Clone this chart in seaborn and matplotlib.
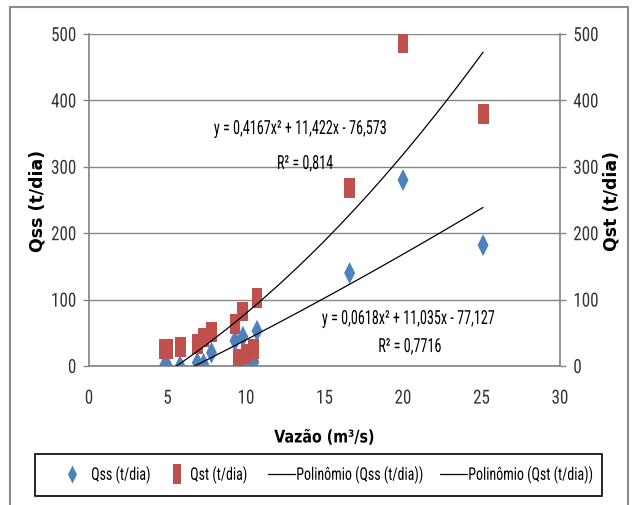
import numpy as np
import pandas as pd
import matplotlib
matplotlib.use("Agg")
import matplotlib.pyplot as plt
from matplotlib import font_manager as fm
from matplotlib.lines import Line2D
from matplotlib.patches import Rectangle
from matplotlib.patheffects import AbstractPathEffect
from matplotlib.textpath import TextPath
from matplotlib.transforms import Affine2D
import seaborn as sns

# Flow rate (m³/s) and sediment discharges (t/dia)
vazao = [4.8, 5.0, 5.8, 6.9, 7.3, 7.8, 9.3, 9.8, 9.5, 10.0, 10.5, 10.7, 16.6, 20.0, 25.1]
qss = [0, 0, 0, 5, 3, 20, 38, 44, 2, 0, 6, 53, 140, 280, 182]
qst = [25, 26, 28, 33, 43, 51, 63, 82, 10, 18, 25, 103, 268, 487, 380]

# Second-order polynomial trend coefficients (a, b, c) and R²
coef_qss = [0.0618, 11.035, -77.127]
r2_qss = 0.7716
coef_qst = [0.4167, 11.422, -76.573]
r2_qst = 0.814

x_ticks = [0, 5, 10, 15, 20, 25, 30]
y_ticks = [0, 100, 200, 300, 400, 500]
legend_labels = ["Qss (t/dia)", "Qst (t/dia)",
                 "Polinômio (Qss (t/dia))", "Polinômio (Qst (t/dia))"]

sns.set_theme(style="white")
plt.rcParams["font.family"] = ["Liberation Sans", "DejaVu Sans"]

BLUE = "#4F81BD"
RED = "#C0504D"
GRID = "#868686"
TXT = "#333333"
TICK_FS = 14
TEXT_FS = 14
LEG_FS = 12.5
W, H, DPI = 634, 506, 100


def narrow_font():
    """Prefer an installed narrow/condensed sans face for the chart text."""
    prefs = ["Liberation Sans Narrow", "Arial Narrow", "Roboto Condensed",
             "Open Sans Condensed", "Noto Sans", "DejaVu Sans"]
    best = None
    for f in fm.fontManager.ttflist:
        narrow = ("Narrow" in f.name or "Condensed" in f.name
                  or "condensed" in str(f.stretch))
        if not narrow or f.style != "normal" or f.weight not in (400, "normal", "regular"):
            continue
        rank = next((i for i, p in enumerate(prefs) if f.name.startswith(p)), len(prefs))
        if best is None or rank < best[0]:
            best = (rank, f.fname)
    if best is None:
        return fm.FontProperties(family="Liberation Sans")
    return fm.FontProperties(fname=best[1])


BASE = narrow_font()


def font(size):
    fp = BASE.copy()
    fp.set_size(size)
    return fp


def ink_width(s, fp):
    return TextPath((0, 0), s, size=fp.get_size_in_points() * DPI / 72,
                    prop=fp).get_extents().width


class Squeeze(AbstractPathEffect):
    """Scale rendered glyphs horizontally around a chosen edge."""

    def __init__(self, fx, anchor="center"):
        super().__init__()
        self.fx = fx
        self.anchor = anchor

    def draw_path(self, renderer, gc, tpath, affine, rgbFace=None):
        ext = tpath.get_extents()
        if self.anchor == "left":
            x0 = ext.x0
        elif self.anchor == "right":
            x0 = ext.x1
        else:
            x0 = 0.5 * (ext.x0 + ext.x1)
        squeeze = Affine2D().translate(-x0, 0).scale(self.fx, 1.0).translate(x0, 0)
        renderer.draw_path(gc, tpath, squeeze + affine, rgbFace)


def condense(text, fx, anchor="center"):
    if abs(fx - 1) > 0.03:
        text.set_path_effects([Squeeze(fx, anchor)])
    return text


fig = plt.figure(figsize=(W / DPI, H / DPI), dpi=DPI)
fig.patch.set_facecolor("white")
ax = fig.add_axes([89 / W, 1 - 367 / H, 471 / W, 332 / H])
ax2 = ax.twinx()

diamond = [(-0.5, 0), (0, 1), (0.5, 0), (0, -1)]
rect = [(-0.55, -1), (0.55, -1), (0.55, 1), (-0.55, 1)]
rect_leg = [(-0.42, -1), (0.42, -1), (0.42, 1), (-0.42, 1)]

df = pd.DataFrame({"vazao": vazao, "qss": qss, "qst": qst})
sns.scatterplot(data=df, x="vazao", y="qss", ax=ax, marker=diamond, s=250,
                color=BLUE, edgecolor="none", linewidth=0, zorder=3, legend=False)
sns.scatterplot(data=df, x="vazao", y="qst", ax=ax2, marker=rect, s=205,
                color=RED, edgecolor="none", linewidth=0, zorder=3, legend=False)


def poly_curve(coef):
    xs = np.linspace(min(vazao), max(vazao), 200)
    return pd.DataFrame({"x": xs, "y": np.polyval(coef, xs)})


sns.lineplot(data=poly_curve(coef_qss), x="x", y="y", ax=ax2, color="black",
             linewidth=0.9, zorder=4, legend=False)
sns.lineplot(data=poly_curve(coef_qst), x="x", y="y", ax=ax2, color="black",
             linewidth=0.9, zorder=4, legend=False)

for a in (ax, ax2):
    a.set_xlim(0, 30)
    a.set_ylim(0, 500)
    a.set_yticks(y_ticks)
    a.set_facecolor("none")
    for s in a.spines.values():
        s.set_visible(False)

ax.set_xticks(x_ticks)
ax.set_xticklabels([str(v) for v in x_ticks])
ax.yaxis.grid(True, color=GRID, linewidth=1)
ax.set_axisbelow(True)
ax.spines["left"].set_visible(True)
ax.spines["left"].set_color(GRID)
ax.spines["bottom"].set_visible(True)
ax.spines["bottom"].set_color(GRID)
ax2.spines["right"].set_visible(True)
ax2.spines["right"].set_color(GRID)

ax.tick_params(axis="x", length=0, pad=17, labelcolor=TXT)
ax.tick_params(axis="y", left=True, length=4.5, width=1, color=GRID,
               direction="out", pad=4.5, labelcolor=TXT)
ax2.tick_params(axis="y", right=True, length=4.5, width=1, color=GRID,
                direction="out", pad=5, labelcolor=TXT)

tick_fp = font(TICK_FS)
tick_fx = 23 / ink_width("500", tick_fp)
for lbls, anchor in [(ax.get_xticklabels(), "center"),
                     (ax.get_yticklabels(), "right"),
                     (ax2.get_yticklabels(), "left")]:
    for lbl in lbls:
        lbl.set_fontproperties(tick_fp)
        condense(lbl, tick_fx, anchor)

bold = dict(fontweight="bold", family=["DejaVu Sans"], color="black")
ax.set_xlabel("Vazão (m³/s)", fontsize=12.5, labelpad=15, **bold)
condense(ax.xaxis.label, 0.82, "center")
ax.set_ylabel("Qss (t/dia)", fontsize=12.5, **bold)
ax.yaxis.set_label_coords((47 - 89) / 471, 0.5)
ax2.set_ylabel("Qst (t/dia)", fontsize=12.5, rotation=90, **bold)
ax2.yaxis.set_label_coords((603 - 89) / 471, 0.5)


def eq_text(coef):
    a, b, c = coef
    fmt = lambda v, d: f"{abs(v):.{d}f}".replace(".", ",")
    sign = "-" if c < 0 else "+"
    return f"y = {fmt(a, 4)}x² + {fmt(b, 3)}x {sign} {fmt(c, 3)}"


def r2_text(r2):
    return "R² = " + f"{r2:g}".replace(".", ",")


def fig_xy(px, py):
    return px / W, 1 - py / H


text_fp = font(TEXT_FS)
text_fx = 172 / ink_width(eq_text(coef_qss), text_fp)
for (px, py), s in [((301, 130), eq_text(coef_qst)),
                    ((305, 165), r2_text(r2_qst)),
                    ((409, 320), eq_text(coef_qss)),
                    ((410, 348), r2_text(r2_qss))]:
    t = fig.text(*fig_xy(px, py), s, ha="center", va="center",
                 fontproperties=text_fp, color="black")
    condense(t, text_fx, "center")

# Legend: one entry per box so each label can sit where it belongs
leg_fp = font(LEG_FS)
leg_fx = 125 / ink_width(legend_labels[2], leg_fp)
handles = [
    Line2D([], [], linestyle="none", marker=diamond, markersize=13,
           markerfacecolor=BLUE, markeredgewidth=0),
    Line2D([], [], linestyle="none", marker=rect_leg, markersize=15,
           markerfacecolor=RED, markeredgewidth=0),
    Line2D([], [], color="black", linewidth=0.9),
    Line2D([], [], color="black", linewidth=0.9),
]
handle_px = 27
text_start = [91, 190, 296, 468]
handle_start = [58, 163, 268, 440]
for handle, label, x_left, x_text in zip(handles, legend_labels, handle_start, text_start):
    em = LEG_FS * DPI / 72
    leg = fig.legend([handle], [label], loc="center left",
                     bbox_to_anchor=fig_xy(x_left, 476), frameon=False,
                     prop=leg_fp, handlelength=handle_px / em,
                     handletextpad=max(x_text - x_left - handle_px, 0) / em,
                     borderpad=0, borderaxespad=0)
    for txt in leg.get_texts():
        txt.set_color("black")
        condense(txt, leg_fx, "left")

fig.patches.append(Rectangle((35 / W, 1 - 497 / H), 567 / W, 42 / H,
                             transform=fig.transFigure, fill=False,
                             edgecolor="black", linewidth=1.2))
fig.patches.append(Rectangle((10 / W, -0.05), 618 / W, 1.05 - 8 / H,
                             transform=fig.transFigure, fill=False,
                             edgecolor="#8c8c8c", linewidth=1.5, clip_on=False))

fig.savefig("out.png", dpi=DPI)
